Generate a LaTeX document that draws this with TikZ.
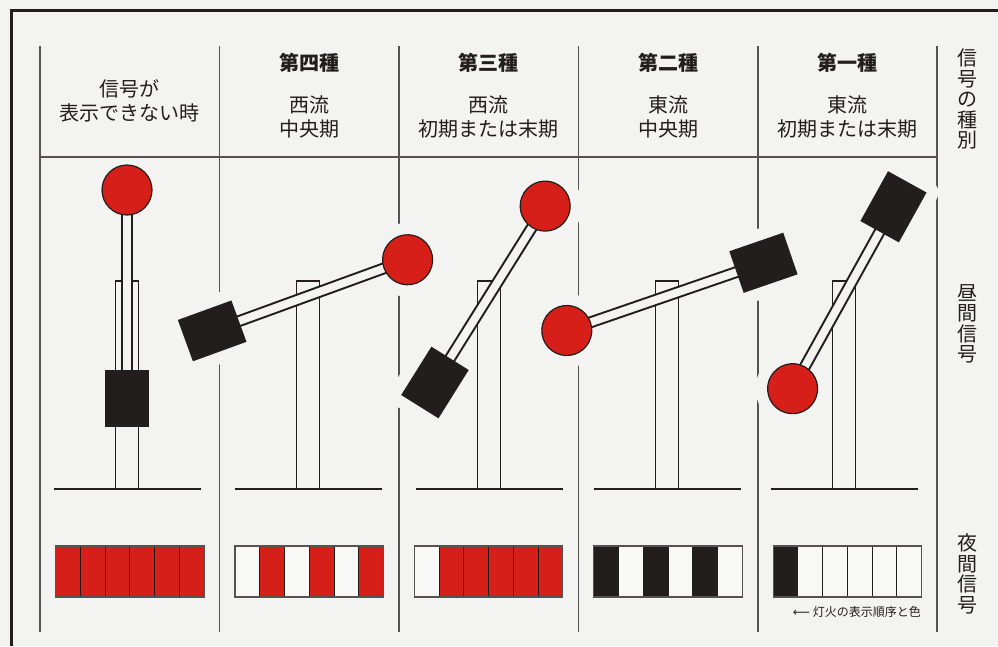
\documentclass[tikz,border=0pt]{standalone}
\usepackage{fontspec}
\setmainfont{Noto Sans CJK JP}
\newfontfamily\arrowfont{DejaVu Sans}

\definecolor{paper}{HTML}{F3F3F1}
\definecolor{lampwhite}{HTML}{F8F8F6}
\definecolor{lampred}{HTML}{D61F18}
\definecolor{ink}{HTML}{221E1B}
\definecolor{rule}{HTML}{55524F}

\begin{document}
\begin{tikzpicture}[x=1pt, y=1pt,
    txt/.style={font=\fontsize{20}{24}\selectfont, align=center, inner sep=0pt, text=ink},
    vlabel/.style={font=\fontsize{20}{20.5}\selectfont, align=center, inner sep=0pt, text=ink},
    colline/.style={draw=rule, line width=1.2pt},
    post/.style={draw=ink, line width=1.9pt, fill=paper},
    arm/.style={draw=ink, line width=1.9pt, fill=paper},
    ball/.style={draw=ink, line width=1.2pt, fill=lampred},
    ground/.style={draw=ink, line width=2.3pt},
    knockout/.style={draw=paper, fill=paper, line width=24pt, line join=round}]

    % Paper and frame
    \fill[paper] (0,0) rectangle (998,646);
    \useasboundingbox (0,0) rectangle (998,646);
    \draw[ink, line width=2.5pt] (11.3,0) -- (11.3,635.5) -- (998,635.5);

    % Column rules
    \foreach \x in {40,219.5,399,578.5,758,937}
        \draw[colline] (\x,600) -- (\x,14);

    % Day signals: post x / angle of the red disc
    \foreach \px/\ang in {127/90, 308/20, 489/58, 667/199, 844/241} {
        \begin{scope}[shift={(\px,350)}, rotate=\ang]
            \fill[paper] (106,0) circle (37);
            \draw[knockout] (-130.5,-22) rectangle (-73.5,22);
        \end{scope}
        \draw[post] (\px-11.5,157) rectangle (\px+11.5,365);
        \draw[ground] (\px-73.5,157) -- (\px+73.5,157);
        \begin{scope}[shift={(\px,350)}, rotate=\ang]
            \draw[arm] (-102,-5) rectangle (106,5);
            \fill[ink] (-130.5,-22) rectangle (-73.5,22);
            \draw[ball] (106,0) circle (25);
        \end{scope}
    }

    % Header rule
    \draw[colline] (40,489) -- (937,489);

    % Night signals, left to right
    \foreach \i/\cols in {
        0/{lampred,lampred,lampred,lampred,lampred,lampred},
        1/{lampwhite,lampred,lampwhite,lampred,lampwhite,lampred},
        2/{lampwhite,lampred,lampred,lampred,lampred,lampred},
        3/{ink,lampwhite,ink,lampwhite,ink,lampwhite},
        4/{ink,lampwhite,lampwhite,lampwhite,lampwhite,lampwhite}} {
        \pgfmathsetmacro\lx{55.5+179.4*\i}
        \foreach \c [count=\k from 0] in \cols
            \filldraw[fill=\c, draw=ink, line width=0.8pt] (\lx+\k*24.75,49) rectangle ++(24.75,51);
        \draw[rule, line width=1.2pt] (\lx,49) rectangle ++(148.5,51);
    }

    % Headings
    \node[txt] (unlit) at (129.7,545.5) {信号が\\表示できない時};
    \node[txt] (kind4) at (309.2,583.5) {\bfseries 第四種};
    \node[txt] (era4) at (309.2,529) {西流\\中央期};
    \node[txt] (kind3) at (488.6,583.5) {\bfseries 第三種};
    \node[txt] (era3) at (488.6,529) {西流\\初期または末期};
    \node[txt] (kind2) at (668,583.5) {\bfseries 第二種};
    \node[txt] (era2) at (668,529) {東流\\中央期};
    \node[txt] (kind1) at (847.5,583.5) {\bfseries 第一種};
    \node[txt] (era1) at (847.5,529) {東流\\初期または末期};

    % Row labels
    \node[vlabel] (kindlabel) at (967,547) {信\\号\\の\\種\\別};
    \node[vlabel] (daylabel) at (967,322) {昼\\間\\信\\号};
    \node[vlabel] (nightlabel) at (967,72) {夜\\間\\信\\号};

    \node[anchor=east, inner sep=0pt, text=ink, font=\fontsize{12}{14}\selectfont] (order) at (921,34) {{\arrowfont ⟵} 灯火の表示順序と色};
\end{tikzpicture}
\end{document}
